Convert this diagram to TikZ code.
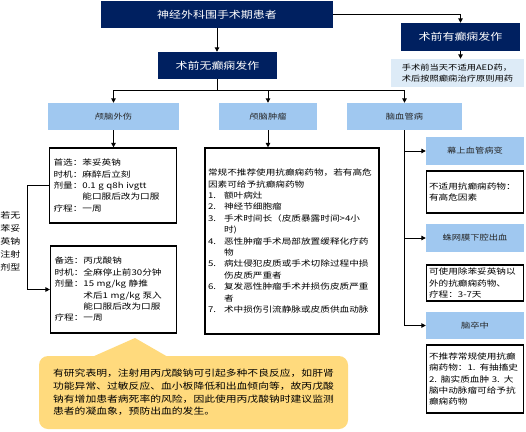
\documentclass[tikz,border=0pt]{standalone}
\usepackage{fontspec}
\setmainfont{Noto Sans CJK SC}[FakeStretch=1.22]
\usetikzlibrary{arrows.meta}
\definecolor{navy}{RGB}{0,32,96}
\definecolor{skyblue}{RGB}{160,200,240}
\definecolor{paleblue}{RGB}{221,235,247}
\definecolor{callout}{RGB}{255,218,125}

\begin{document}
\begin{tikzpicture}[x=1pt, y=-1pt, >={Triangle[length=4.5pt,width=4.5pt]},
  navybox/.style={fill=navy, text=white, inner sep=0pt, font=\fontsize{9.8pt}{12pt}\selectfont},
  bluebox/.style={fill=skyblue, text=black!85, inner sep=0pt, font=\fontsize{7.6pt}{10pt}\selectfont},
  infobox/.style={draw, line width=1.2pt, fill=white, align=left, inner xsep=2.4pt, inner ysep=0pt, font=\fontsize{7.9pt}{11.4pt}\selectfont},
  link/.style={line width=1pt}]
\useasboundingbox (0,0) rectangle (526,431);

\node[navybox, minimum width=232pt, minimum height=27pt] (patients) at (217,14.5) {神经外科围手术期患者};
\node[navybox, minimum width=119pt, minimum height=28pt] (seizure) at (460.5,37) {术前有癫痫发作};
\node[fill=paleblue, align=left, inner sep=0pt, minimum width=133pt, minimum height=28pt, font=\fontsize{7.6pt}{11.5pt}\selectfont] (aednote) at (457.5,73) {手术前当天不适用AED药，\\术后按照癫痫治疗原则用药};
\node[navybox, minimum width=119pt, minimum height=27pt] (noseizure) at (217.5,65.5) {术前无癫痫发作};

\node[bluebox, minimum width=131pt, minimum height=27pt] (trauma) at (113.5,116.5) {颅脑外伤};
\node[bluebox, minimum width=98pt, minimum height=27pt] (tumor) at (268,116.5) {颅脑肿瘤};
\node[bluebox, minimum width=115pt, minimum height=27pt] (vascular) at (404.5,116.5) {脑血管病};

\node[infobox, inner xsep=4pt, text width=119pt, minimum height=75pt] (firstline) at (113,185.5) {首选：苯妥英钠\\时机：麻醉后立刻\\剂量：0.1 g q8h ivgtt\\\phantom{剂量：}能口服后改为口服\\疗程：一周};
\node[infobox, inner xsep=4pt, text width=118pt, minimum height=87pt] (secondline) at (113.5,289.5) {备选：丙戊酸钠\\时机：全麻停止前30分钟\\剂量：15 mg/kg 静推\\\phantom{剂量：}术后1 mg/kg 泵入\\\phantom{剂量：}能口服后改为口服\\疗程：一周};
\node[font=\fontsize{8.2pt}{13pt}\selectfont, align=right, anchor=east, inner sep=0pt] (nophenytoin) at (20.5,241) {若无\\苯妥\\英钠\\注射\\剂型};

\node[infobox, inner xsep=3pt, text width=168pt, minimum height=186pt] (tumorbox) at (292,241) {常规不推荐使用抗癫痫药物，若有高危\\因素可给予抗癫痫药物\\
\makebox[16pt][l]{1.}额叶病灶\\
\makebox[16pt][l]{2.}神经节细胞瘤\\
\makebox[16pt][l]{3.}手术时间长（皮质暴露时间>4小\\\hspace*{16pt}时)\\
\makebox[16pt][l]{4.}恶性肿瘤手术局部放置缓释化疗药\\\hspace*{16pt}物\\
\makebox[16pt][l]{5.}病灶侵犯皮质或手术切除过程中损\\\hspace*{16pt}伤皮质严重者\\
\makebox[16pt][l]{6.}复发恶性肿瘤手术并损伤皮质严重\\\hspace*{16pt}者\\
\makebox[16pt][l]{7.}术中损伤引流静脉或皮质供血动脉};

\node[bluebox, minimum width=98pt, minimum height=28pt] (supra) at (475,151) {幕上血管病变};
\node[infobox, text width=92pt, minimum height=42pt] (supranote) at (475,192) {不适用抗癫痫药物：\\有高危因素};
\node[bluebox, minimum width=98pt, minimum height=28pt] (sah) at (475,238) {蛛网膜下腔出血};
\node[infobox, text width=92pt, minimum height=36pt] (sahnote) at (475,283) {可使用除苯妥英钠以\\外的抗癫痫药物、\\疗程：3-7天};
\node[bluebox, minimum width=98pt, minimum height=27pt] (stroke) at (475,325.5) {脑卒中};
\node[infobox, text width=92pt, minimum height=68pt] (strokenote) at (475,379) {不推荐常规使用抗癫\\痫药物：1. 有抽搐史\\2. 脑实质血肿 3. 大\\脑中动脉瘤可给予抗\\癫痫药物};

\fill[callout] (92,357) -- (135,338) -- (168,357) -- cycle;
\node[fill=callout, rounded corners=9pt, inner sep=0pt, minimum width=309pt, minimum height=73pt, align=left, font=\fontsize{8.85pt}{12.8pt}\selectfont] (warning) at (193.5,392.5) {有研究表明，注射用丙戊酸钠可引起多种不良反应，如肝肾\\功能异常、过敏反应、血小板降低和出血倾向等，故丙戊酸\\钠有增加患者病死率的风险，因此使用丙戊酸钠时建议监测\\患者的凝血象，预防出血的发生。};

\draw[link, ->] (patients.east) -| (seizure.north);
\draw[link, ->] (seizure.south) -- (seizure.south |- aednote.north);
\draw[link, ->] (patients.south) -- (patients.south |- noseizure.north);
\draw[link] (noseizure.south) -- ++(0,11) coordinate (fork);
\draw[link, ->] (fork) -| (trauma.north);
\draw[link, ->] (fork) -| (tumor.north);
\draw[link, ->] (fork) -| (vascular.north);
\draw[link, ->] (trauma.south) -- (trauma.south |- firstline.north);
\draw[link, ->] (tumor.south) -- (tumor.south |- tumorbox.north);
\draw[link, ->] (firstline.west) -- ++(-21,0) |- (secondline.west);
\draw[link, ->] (vascular.south) |- (supra.west);
\draw[link, ->] (vascular.south) |- (sah.west);
\draw[link, ->] (vascular.south) |- (stroke.west);
\end{tikzpicture}
\end{document}
